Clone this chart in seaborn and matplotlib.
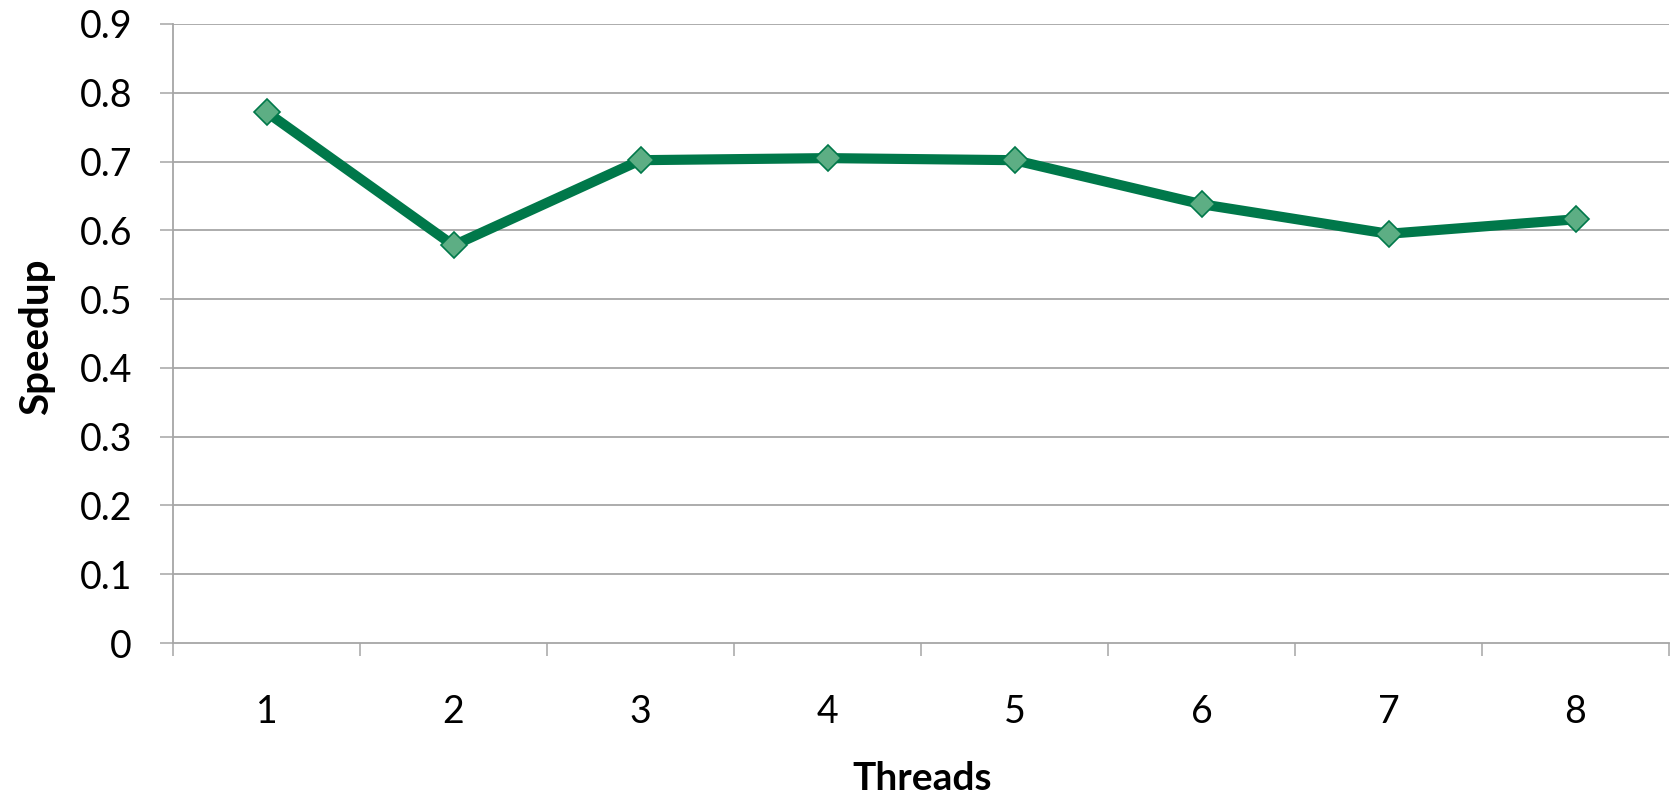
import matplotlib
matplotlib.use("Agg")
import matplotlib.pyplot as plt
import seaborn as sns
import pandas as pd
from matplotlib.ticker import FixedLocator, FuncFormatter

threads = [1, 2, 3, 4, 5, 6, 7, 8]
speedup = [0.772, 0.578, 0.702, 0.705, 0.702, 0.638, 0.595, 0.616]
y_ticks = [0, 0.1, 0.2, 0.3, 0.4, 0.5, 0.6, 0.7, 0.8, 0.9]

sns.set_theme(style="white")
plt.rcParams['font.family'] = ['Lato', 'DejaVu Sans']

df = pd.DataFrame({"Threads": threads, "Speedup": speedup})

fig = plt.figure(figsize=(16.75, 8), dpi=100)
ax = fig.add_axes([173/1675, 1-643/800, (1669-173)/1675, (643-24)/800])

grid_c = "#A6A6A6"
for yv in y_ticks[1:]:
    ax.axhline(yv, color=grid_c, lw=1.3, zorder=0)

sns.lineplot(data=df, x="Threads", y="Speedup", ax=ax, color="#00784A",
             linewidth=7.3, marker="D", markersize=13,
             markerfacecolor="#5DAE84", markeredgecolor="#00784A",
             markeredgewidth=1.2, zorder=3)

ax.set_xlim(0.5, 8.5)
ax.set_ylim(0, 0.9)

ax.set_xticks(threads)
ax.set_xticklabels([str(t) for t in threads])
ax.xaxis.set_minor_locator(FixedLocator([t - 0.5 for t in threads] + [threads[-1] + 0.5]))
ax.tick_params(axis="x", which="major", length=0, pad=37, labelsize=27, labelcolor="black")
ax.tick_params(axis="x", which="minor", length=9, width=1.1, color=grid_c, direction="out", bottom=True)

ax.set_yticks(y_ticks)
ax.yaxis.set_major_formatter(FuncFormatter(lambda v, p: f"{v:g}"))
ax.tick_params(axis="y", which="major", length=9.5, width=1.1, color=grid_c, direction="out",
               left=True, pad=20, labelsize=27, labelcolor="black")

for s in ["top", "right"]:
    ax.spines[s].set_visible(False)
for s in ["left", "bottom"]:
    ax.spines[s].set_color(grid_c)
    ax.spines[s].set_linewidth(1.3)

ax.set_xlabel("")
ax.set_ylabel("")
fig.text(922/1675, 1-779/800, "Threads", ha="center", va="center",
         fontsize=28, fontweight="bold", color="black")
fig.text(37/1675, 1-337/800, "Speedup", ha="center", va="center", rotation=90,
         fontsize=29, fontweight="bold", color="black")

fig.savefig("out.png", dpi=100, facecolor="white")
